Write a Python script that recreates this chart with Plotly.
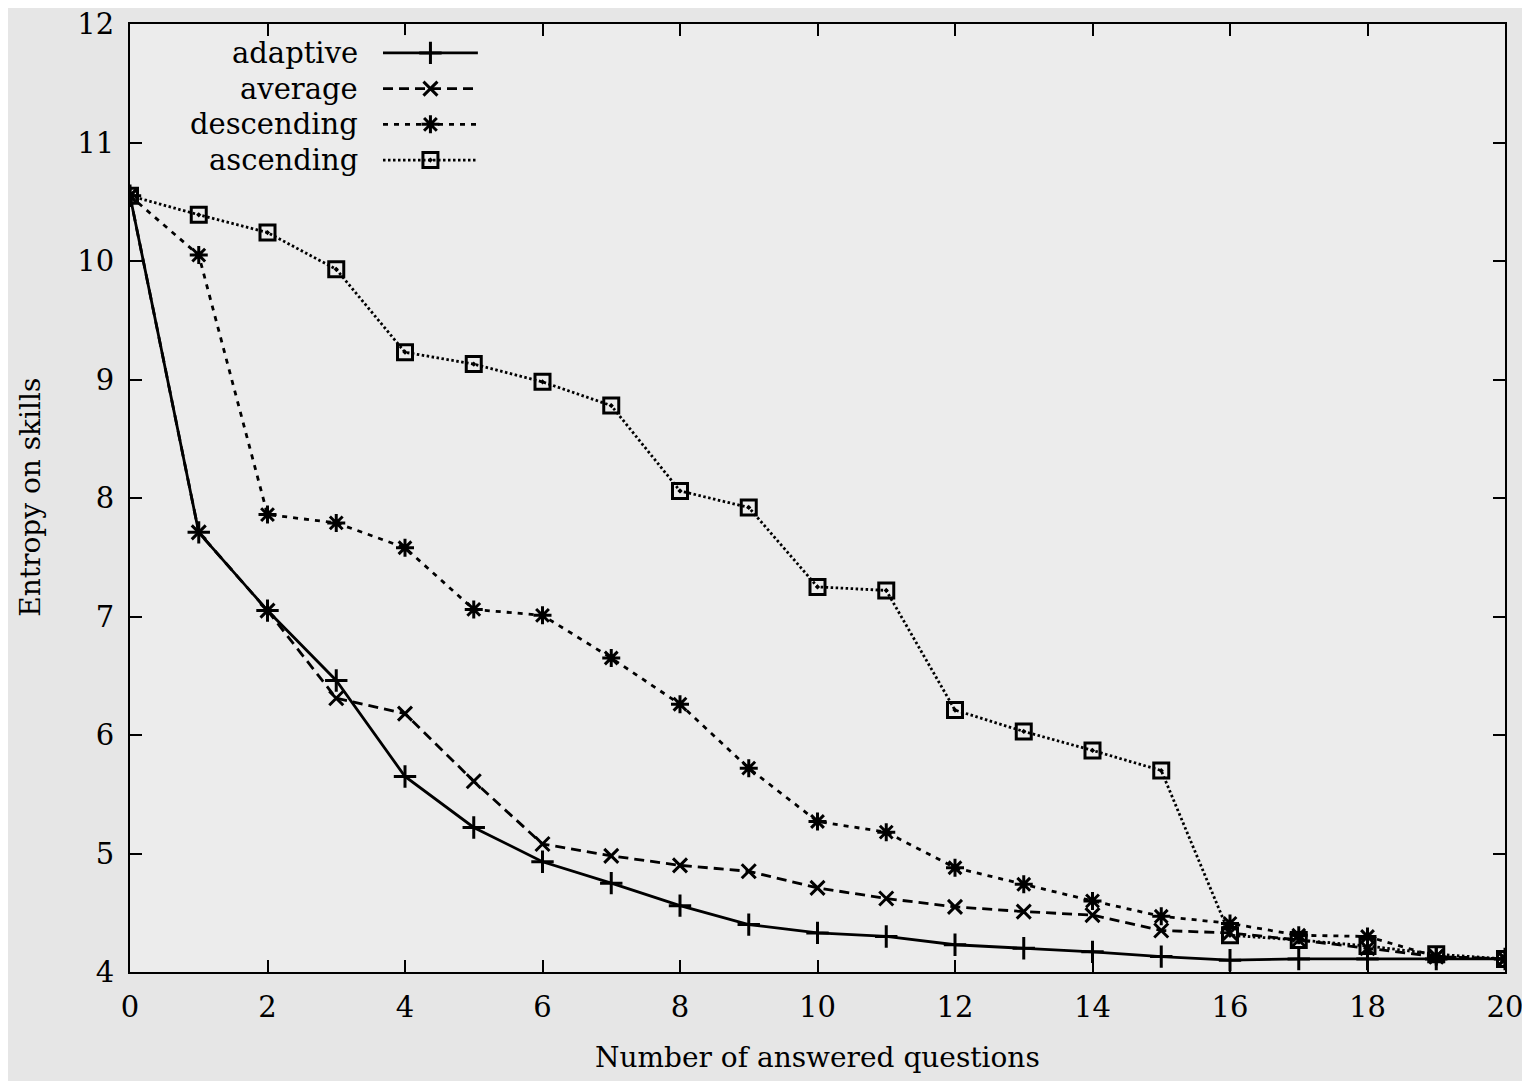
import plotly.graph_objects as go

questions = list(range(21))
adaptive = [10.55, 7.71, 7.05, 6.46, 5.65, 5.22, 4.93, 4.75, 4.56, 4.40, 4.33,
            4.30, 4.23, 4.20, 4.17, 4.13, 4.10, 4.11, 4.11, 4.11, 4.11]
average = [10.55, 7.71, 7.05, 6.31, 6.18, 5.61, 5.08, 4.98, 4.90, 4.85, 4.71,
           4.62, 4.55, 4.51, 4.48, 4.35, 4.33, 4.27, 4.20, 4.13, 4.11]
descending = [10.55, 10.05, 7.86, 7.79, 7.58, 7.06, 7.01, 6.65, 6.26, 5.72, 5.27,
              5.18, 4.88, 4.74, 4.60, 4.47, 4.41, 4.31, 4.30, 4.13, 4.11]
ascending = [10.55, 10.39, 10.24, 9.93, 9.23, 9.13, 8.98, 8.78, 8.06, 7.92, 7.25,
             7.22, 6.21, 6.03, 5.87, 5.70, 4.31, 4.27, 4.22, 4.15, 4.11]

x_ticks = list(range(0, 21, 2))
y_ticks = list(range(4, 13))
series_names = ["adaptive", "average", "descending", "ascending"]
x_title = "Number of answered questions"
y_title = "Entropy on skills"

FONT = "DejaVu Serif"
styles = [
    dict(dash="solid", symbol="cross-thin", size=16),
    dict(dash="10px,6px", symbol="x-thin", size=14),
    dict(dash="5px,6px", symbol="asterisk", size=15),
    dict(dash="2.5px,2.5px", symbol="square-open-dot", size=15),
]
data = [adaptive, average, descending, ascending]

fig = go.Figure()
for name, vals, st in zip(series_names, data, styles):
    fig.add_trace(go.Scatter(
        x=questions, y=vals, mode="lines+markers", name=name,
        line=dict(color="black", width=2.8, dash=st["dash"]),
        marker=dict(symbol=st["symbol"], size=st["size"], color="black",
                    line=dict(color="black", width=3)),
        showlegend=False,
    ))

# Custom legend (text left of the sample, as in the reference) on a helper axis
leg_rows = [3, 2, 1, 0]
row_bottom, row_top = 0.8565, 0.9695
row_step = (row_top - row_bottom) / 3
for i, (name, st) in enumerate(zip(series_names, styles)):
    row = leg_rows[i]
    fig.add_trace(go.Scatter(
        x=[0, 0.5, 1], y=[row, row, row], mode="lines",
        line=dict(color="black", width=2.8, dash=st["dash"]),
        xaxis="x2", yaxis="y2", showlegend=False, hoverinfo="skip", cliponaxis=False,
    ))
    fig.add_trace(go.Scatter(
        x=[0.5], y=[row], mode="markers",
        marker=dict(symbol=st["symbol"], size=st["size"], color="black",
                    line=dict(color="black", width=3)),
        xaxis="x2", yaxis="y2", showlegend=False, hoverinfo="skip", cliponaxis=False,
    ))
    fig.add_annotation(
        x=0.1673, y=row_bottom + row_step * row, xref="paper", yref="paper",
        text=name, showarrow=False, xanchor="right", yanchor="middle",
        font=dict(family=FONT, size=29, color="black"),
    )

# Axis titles
fig.add_annotation(x=0.5, y=-0.09, xref="paper", yref="paper", text=x_title,
                   showarrow=False, xanchor="center", yanchor="middle",
                   font=dict(family=FONT, size=28, color="black"))
fig.add_annotation(x=-0.073, y=0.501, xref="paper", yref="paper", text=y_title,
                   showarrow=False, xanchor="center", yanchor="middle", textangle=-90,
                   font=dict(family=FONT, size=28, color="black"))

axis_common = dict(
    showgrid=False, zeroline=False, showline=True, linecolor="black", linewidth=2,
    mirror="ticks", ticks="inside", ticklen=12, tickwidth=1.5, tickcolor="black",
    tickfont=dict(family=FONT, size=29, color="black"), automargin=False,
    ticklabeloverflow="allow",
)

fig.update_layout(
    width=1522, height=1073,
    margin=dict(l=122, r=25, t=16, b=109),
    paper_bgcolor="#e6e6e6", plot_bgcolor="#ececec",
    font=dict(family=FONT, color="black"),
    xaxis=dict(range=[0, 20], tickvals=x_ticks, ticktext=[str(v) for v in x_ticks],
               ticklabelstandoff=8, **axis_common),
    yaxis=dict(range=[4, 12], tickvals=y_ticks, ticktext=[str(v) for v in y_ticks],
               ticklabelstandoff=8, **axis_common),
    xaxis2=dict(domain=[0.184, 0.253], range=[0, 1], visible=False, anchor="y2"),
    yaxis2=dict(domain=[row_bottom - 0.5 * row_step, row_top + 0.5 * row_step],
                range=[-0.5, 3.5], visible=False, anchor="x2"),
)

fig.write_html("out.html")
